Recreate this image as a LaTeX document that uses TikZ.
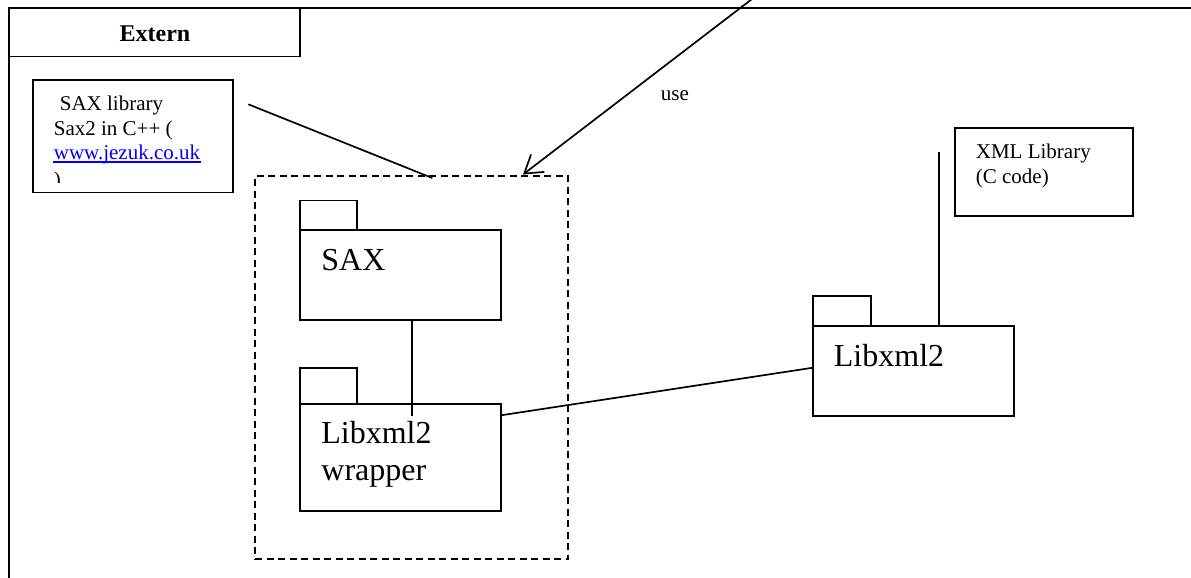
\documentclass[tikz,border=0pt]{standalone}
\usepackage{fontspec}
\setmainfont{Liberation Serif}
\usetikzlibrary{arrows.meta,calc}
\begin{document}
\begin{tikzpicture}[x=1pt,y=-1pt,line width=1.8pt,
  box/.style={draw,line width=1.9pt,inner sep=0pt,outer sep=0pt,anchor=north west},
  notetext/.style={font=\fontsize{21}{25}\selectfont,anchor=base west,inner sep=0pt,align=left},
  pkgtext/.style={font=\fontsize{32}{37}\selectfont,anchor=base west,inner sep=0pt,align=left},
  conn/.style={line width=1.7pt}]
\useasboundingbox (0,0) rectangle (1191,578);

% outer frame, running off the page to the right and bottom
\begin{scope}
  \clip (0,0) rectangle (1191,578);
  \node[box,minimum width=1250pt,minimum height=650pt] (frame) at (9,8) {};
\end{scope}
\node[box,minimum width=291pt,minimum height=48.5pt] (tab) at (9,8) {};
\node[font=\bfseries\fontsize{24}{28}\selectfont,anchor=base,inner sep=0pt] (title) at (155,42) {Extern};

% note about the SAX library
\node[box,minimum width=200.6pt,minimum height=112.5pt] (saxnote) at (32.7,80) {};
\begin{scope}
  \clip (34,81) rectangle (232,182);
  \node[notetext] (n1) at (59,110.7) {SAX library};
  \node[notetext] (n2) at (53,135) {Sax2 in C++ (};
  \node[notetext,text=blue] (n3) at (53,159) {www.jezuk.co.uk};
  \node[notetext] (n4) at (53,186.5) {)};
\end{scope}
\draw[blue,line width=1.3pt] ($(n3.base west)+(0,3)$) -- ($(n3.base east)+(0,3)$);

% dashed grouping of the two inner packages
\node[box,line width=1.8pt,dash pattern=on 7pt off 4.5pt,minimum width=313pt,minimum height=383pt] (group) at (255,176) {};

% note connector
\coordinate (notefree) at (248.3,104.3);
\coordinate (groupin) at (432.3,178);
\draw[conn] (notefree) -- (groupin);

% use arrow coming from above the page
\coordinate (usetop) at (753.3,-2);
\draw[conn,-{Straight Barb[length=17pt,width=22pt]}] (usetop) -- ($(group.north east)+(-45,-1.5)$);
\node[notetext] (uselbl) at (660,100) {use};

% package SAX
\node[box,minimum width=57pt,minimum height=30pt] (saxtab) at (300,200.5) {};
\node[box,minimum width=201pt,minimum height=90pt] (sax) at (300,230.3) {};
\node[pkgtext] (saxlbl) at (320.5,270.5) {SAX};

% package Libxml2 wrapper
\node[box,minimum width=57pt,minimum height=36pt] (wraptab) at (300,368) {};
\node[box,minimum width=201pt,minimum height=107pt] (wrap) at (300,404) {};
\node[pkgtext] (wraplbl) at (320.5,480) {Libxml2\\wrapper};

% package Libxml2
\node[box,minimum width=57.5pt,minimum height=30pt] (libtab) at (813.3,296) {};
\node[box,minimum width=201pt,minimum height=89.7pt] (lib) at (813.3,326) {};
\node[pkgtext] (liblbl) at (833,366.7) {Libxml2};

% note about the XML library
\node[box,minimum width=178.6pt,minimum height=87.7pt] (xmlnote) at (954.7,128.3) {};
\node[notetext] (x1) at (975,183) {XML Library\\(C code)};

% connectors
\draw[conn] ($(sax.south west)+(112,0)$) -- ($(wrap.north west)+(112,11.5)$);
\draw[conn] ($(wrap.north east)+(0,11.3)$) -- ($(lib.west)+(0,-3.2)$);
\coordinate (xmlfree) at (939,151.7);
\draw[conn] ($(lib.north west)+(125.7,0)$) -- (xmlfree);
\end{tikzpicture}
\end{document}
